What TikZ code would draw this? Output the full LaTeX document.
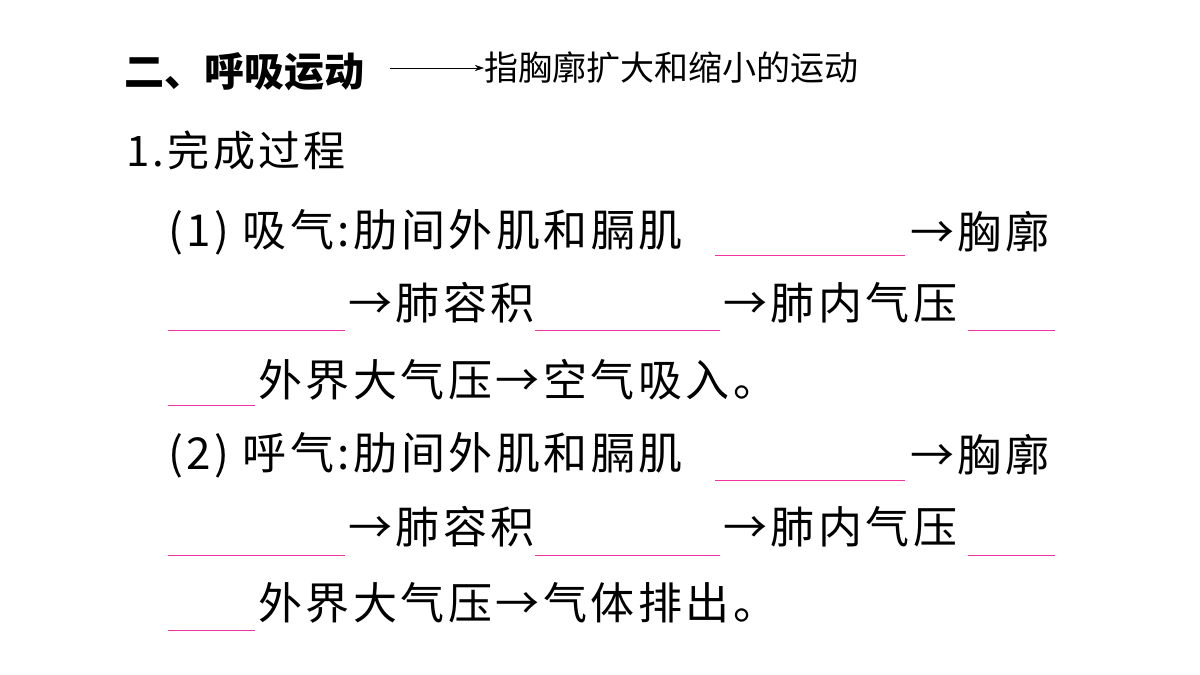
\documentclass[tikz,border=0pt]{standalone}
\usepackage{fontspec}
\usetikzlibrary{arrows.meta}
\newfontfamily\cjk{Noto Sans CJK SC}
\newfontfamily\cjks{Noto Sans CJK SC}[LetterSpace=8]
\begin{document}
\begin{tikzpicture}[x=1pt,y=-1pt,
  t/.style={anchor=west,inner sep=0pt,font=\cjks\fontsize{44}{44}\selectfont},
  blank/.style={draw=magenta!80!white,line width=0.8pt}]
\useasboundingbox (0,0) rectangle (1200,675);
\node[t,font=\cjk\fontsize{40}{40}\selectfont\bfseries] (h) at (124,72) {二、呼吸运动};
\node[t,font=\cjk\fontsize{34}{34}\selectfont] (n) at (484,68) {指胸廓扩大和缩小的运动};
\draw[-{Stealth[length=9pt,width=6pt]}] (390,68) -- (n.west);
\node[t,font=\cjks\fontsize{42}{42}\selectfont] (s) at (126,150) {1.完成过程};
% part 1
\node[t] (a1) at (168,232) {(1) 吸气:肋间外肌和膈肌};
\draw[blank] (715,255) -- (905,255);
\node[t] (a2) at (910,232) {→胸廓};
\draw[blank] (168,330) -- (345,330);
\node[t] (a3) at (348,303) {→肺容积};
\draw[blank] (535,330) -- (720,330);
\node[t] (a4) at (723,303) {→肺内气压};
\draw[blank] (968,330) -- (1055,330);
\draw[blank] (168,405) -- (255,405);
\node[t] (a5) at (258,380) {外界大气压→空气吸入。};
% part 2
\node[t] (b1) at (168,455) {(2) 呼气:肋间外肌和膈肌};
\draw[blank] (715,480) -- (905,480);
\node[t] (b2) at (910,455) {→胸廓};
\draw[blank] (168,555) -- (345,555);
\node[t] (b3) at (348,527) {→肺容积};
\draw[blank] (535,555) -- (720,555);
\node[t] (b4) at (723,527) {→肺内气压};
\draw[blank] (968,555) -- (1055,555);
\draw[blank] (168,630) -- (255,630);
\node[t] (b5) at (258,603) {外界大气压→气体排出。};
\end{tikzpicture}
\end{document}
